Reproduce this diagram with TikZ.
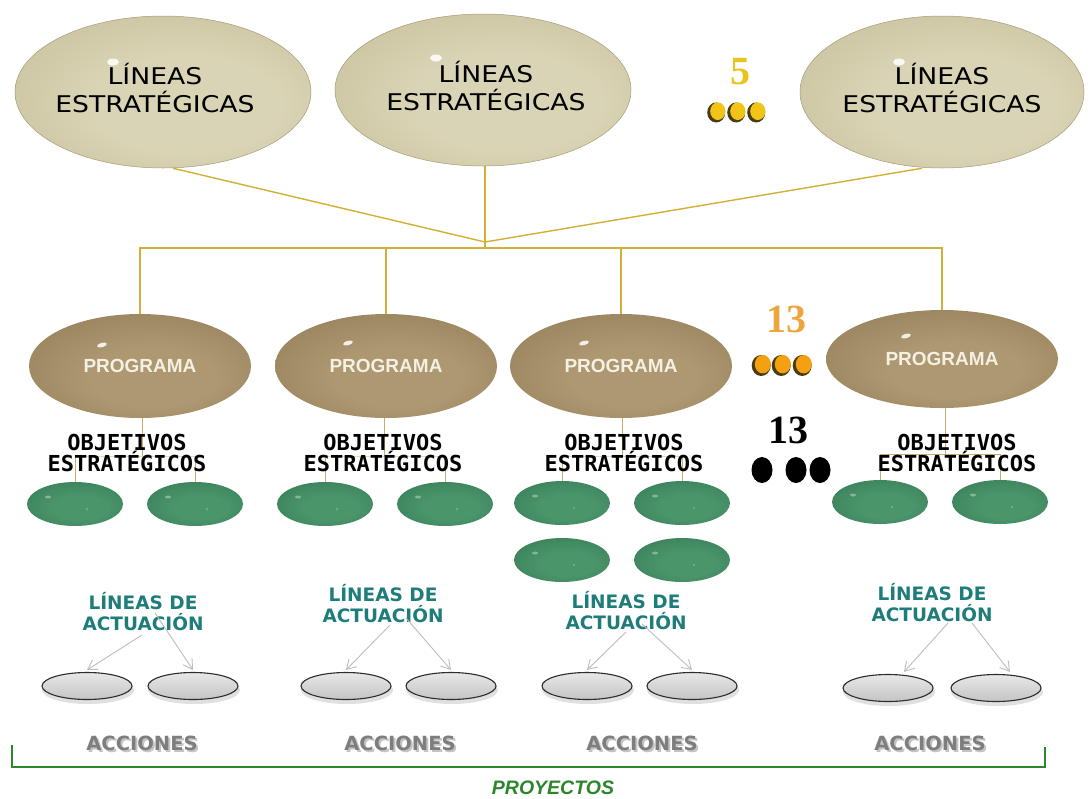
\documentclass[tikz,border=0pt]{standalone}
\usepackage{fontspec}
\setmainfont{DejaVu Sans}
\newfontfamily\wideface[FakeStretch=1.16]{DejaVu Sans}
\newfontfamily\monoface{DejaVu Sans Mono}
\newfontfamily\serifface{Liberation Serif}
\newfontfamily\arialface{Liberation Sans}
\usetikzlibrary{shapes.geometric,arrows.meta}

% palette
\definecolor{topin}{HTML}{D9D4B5}
\definecolor{topout}{HTML}{BAB28A}
\definecolor{topedge}{HTML}{A59D78}
\definecolor{progin}{HTML}{AE9871}
\definecolor{progout}{HTML}{86704D}
\definecolor{progtext}{HTML}{F4F0E4}
\definecolor{greenin}{HTML}{4B956B}
\definecolor{greenout}{HTML}{2B6E4C}
\definecolor{acttop}{HTML}{E8E8E8}
\definecolor{actbot}{HTML}{C4C4C4}
\definecolor{actedge}{HTML}{2C2C2C}
\definecolor{gold}{HTML}{D2B035}
\definecolor{tanc}{HTML}{C9AE6E}
\definecolor{tealc}{HTML}{1E7D7A}
\definecolor{accgray}{HTML}{7E7E7E}
\definecolor{accshadow}{HTML}{C4C4C4}
\definecolor{arrgray}{HTML}{BDBDBD}
\definecolor{bracketgreen}{HTML}{2C862C}
\definecolor{numgold}{HTML}{E9C41C}
\definecolor{numorange}{HTML}{EDA63C}
\definecolor{coingold}{HTML}{F2C418}
\definecolor{coinorange}{HTML}{F5A012}
\definecolor{coinrim}{HTML}{4A3C12}

% soft radial shadings, brightest a little below and right of centre
\pgfdeclareradialshading{topshade}{\pgfpoint{6bp}{-6bp}}{color(0bp)=(topin); color(16bp)=(topin); color(50bp)=(topout)}
\pgfdeclareradialshading{progshade}{\pgfpoint{4bp}{-8bp}}{color(0bp)=(progin); color(14bp)=(progin); color(50bp)=(progout)}
\pgfdeclareradialshading{greenshade}{\pgfpoint{4bp}{-6bp}}{color(0bp)=(greenin); color(14bp)=(greenin); color(50bp)=(greenout)}

\begin{document}
\begin{tikzpicture}[x=1pt,y=-1pt,
  topell/.style={ellipse, minimum width=296pt, minimum height=152pt, inner sep=0pt,
    shade, shading=topshade, draw=topedge, line width=0.5pt},
  toplabel/.style={align=center, inner sep=0pt, font=\wideface\fontsize{23}{28}\selectfont},
  progell/.style={ellipse, minimum width=222pt, minimum height=104pt, inner sep=0pt,
    shade, shading=progshade, font=\arialface\bfseries\fontsize{19}{20}\selectfont, text=progtext},
  objell/.style={ellipse, minimum width=96pt, minimum height=44pt, inner sep=0pt,
    shade, shading=greenshade},
  actell/.style={ellipse, minimum width=90pt, minimum height=27pt, inner sep=0pt,
    draw=actedge, line width=1.1pt, top color=acttop, bottom color=actbot},
  actshadow/.style={fill=black, opacity=0.12},
  objlabel/.style={font=\monoface\bfseries\fontsize{22}{21}\selectfont, align=center, inner sep=0pt},
  linlabel/.style={font=\bfseries\fontsize{18.5}{21}\selectfont, text=tealc, align=center, inner sep=0pt},
  acclabel/.style={font=\bfseries\fontsize{19.5}{20}\selectfont, text=accgray, inner sep=0pt},
  accshade/.style={font=\bfseries\fontsize{19.5}{20}\selectfont, text=accshadow, inner sep=0pt},
  numlabel/.style={font=\serifface\bfseries\fontsize{40}{40}\selectfont, inner sep=0pt},
  goldline/.style={draw=gold, line width=1.4pt},
  tanline/.style={draw=tanc, line width=1pt},
  tanbar/.style={draw=tanc, line width=1pt, opacity=0.45},
  arr/.style={draw=arrgray, line width=0.9pt, -{Straight Barb[length=9pt,width=11pt]}},
  glint/.style={fill=white, opacity=0.85},
]
\fill[white] (0,0) rectangle (1089,798);
\useasboundingbox (0,0) rectangle (1089,798);

% ---- strategic lines ----
\node[topell] (t1) at (163,92) {};
\node[topell] (t2) at (483,90) {};
\node[topell, minimum width=284pt] (t3) at (942,92) {};
\node[toplabel] (tl1) at (155,88) {LÍNEAS\\ESTRATÉGICAS};
\node[toplabel] (tl2) at (486,86) {LÍNEAS\\ESTRATÉGICAS};
\node[toplabel] (tl3) at (942,88) {LÍNEAS\\ESTRATÉGICAS};
\fill[glint] (113,62) ellipse [x radius=6pt, y radius=3.5pt];
\fill[glint] (436,58) ellipse [x radius=6pt, y radius=3.5pt];
\fill[glint] (899,62) ellipse [x radius=6pt, y radius=3.5pt];

% ---- programmes ----
\node[progell] (p1) at (140,366) {PROGRAMA};
\node[progell] (p2) at (386,366) {PROGRAMA};
\node[progell] (p3) at (621,366) {PROGRAMA};
\node[progell, minimum width=232pt, minimum height=98pt] (p4) at (942,359) {PROGRAMA};
\fill[glint, rotate around={15:(102,345)}] (102,345) ellipse [x radius=5pt, y radius=2.2pt];
\fill[glint, rotate around={15:(348,343)}] (348,343) ellipse [x radius=5pt, y radius=2.2pt];
\fill[glint, rotate around={15:(584,343)}] (584,343) ellipse [x radius=5pt, y radius=2.2pt];
\fill[glint, rotate around={15:(906,336)}] (906,336) ellipse [x radius=5pt, y radius=2.2pt];

% ---- strategic objectives ----
\node[objell] (g1a) at (75,504) {};
\node[objell] (g1b) at (195,504) {};
\node[objell] (g2a) at (325,504) {};
\node[objell] (g2b) at (445,504) {};
\node[objell] (g3a) at (562,503) {};
\node[objell] (g3b) at (682,503) {};
\node[objell] (g3c) at (562,560) {};
\node[objell] (g3d) at (682,560) {};
\node[objell] (g4a) at (880,502) {};
\node[objell] (g4b) at (1000,502) {};
\foreach \gx/\gy in {75/504,195/504,325/504,445/504,562/503,682/503,562/560,682/560,880/502,1000/502}{
  \fill[white, opacity=0.35] (\gx-27,\gy-7) ellipse [x radius=3pt, y radius=1.5pt];
  \fill[white, opacity=0.25] (\gx+12,\gy+5) ellipse [x radius=1pt, y radius=1.5pt];
}

% ---- actions ----
\foreach \ax/\ay in {87/686,193/686,346/686,451/686,587/686,692/686,888/688,996/688}{
  \fill[actshadow] (\ax+1,\ay+4) ellipse [x radius=46pt, y radius=14pt];
}
\node[actell] (a1a) at (87,686) {};
\node[actell] (a1b) at (193,686) {};
\node[actell] (a2a) at (346,686) {};
\node[actell] (a2b) at (451,686) {};
\node[actell] (a3a) at (587,686) {};
\node[actell] (a3b) at (692,686) {};
\node[actell] (a4a) at (888,688) {};
\node[actell] (a4b) at (996,688) {};

% ---- gold tree from strategic lines to programmes ----
\coordinate (hub) at (485,242);
\coordinate (bar) at (0,248);
\draw[goldline] ([xshift=10pt]t1.south) -- (hub);
\draw[goldline] ([xshift=-20pt]t3.south) -- (hub);
\draw[goldline] ([xshift=2pt]t2.south) -- (hub |- bar);
\draw[goldline] (p1.north) -- (p1.north |- bar) -- (p4.north |- bar) -- (p4.north);
\draw[goldline] (p2.north) -- (p2.north |- bar);
\draw[goldline] (p3.north) -- (p3.north |- bar);

% ---- programme to objectives ----
\coordinate (j1) at (142,456);
\coordinate (j2) at (384,456);
\coordinate (j3) at (622,456);
\coordinate (j4) at (945,454);
\draw[tanline] (p1.south -| j1) -- (j1);
\draw[tanbar] (g1a.north |- j1) -- (g1b.north |- j1);
\draw[tanline] (g1a.north |- j1) -- (g1a.north);
\draw[tanline] (g1b.north |- j1) -- (g1b.north);
\draw[tanline] (p2.south -| j2) -- (j2);
\draw[tanbar] (g2a.north |- j2) -- (g2b.north |- j2);
\draw[tanline] (g2a.north |- j2) -- (g2a.north);
\draw[tanline] (g2b.north |- j2) -- (g2b.north);
\draw[tanline] (p3.south -| j3) -- (j3);
\draw[tanbar] (g3a.north |- j3) -- (g3b.north |- j3);
\draw[tanline] (g3a.north |- j3) -- (g3a.north);
\draw[tanline] (g3b.north |- j3) -- (g3b.north);
\draw[tanline] (p4.south -| j4) -- (j4);
\draw[tanline] (g4a.north |- j4) -- (g4b.north |- j4);
\draw[tanline] (g4a.north |- j4) -- (g4a.north);
\draw[tanline] (g4b.north |- j4) -- (g4b.north);

% ---- labels ----
\node[objlabel] (o1) at (127,453) {OBJETIVOS\\ESTRATÉGICOS};
\node[objlabel] (o2) at (383,453) {OBJETIVOS\\ESTRATÉGICOS};
\node[objlabel] (o3) at (624,453) {OBJETIVOS\\ESTRATÉGICOS};
\node[objlabel] (o4) at (957,453) {OBJETIVOS\\ESTRATÉGICOS};

\node[linlabel] (l1) at (143,612) {LÍNEAS DE\\ACTUACIÓN};
\node[linlabel] (l2) at (383,604) {LÍNEAS DE\\ACTUACIÓN};
\node[linlabel] (l3) at (626,611) {LÍNEAS DE\\ACTUACIÓN};
\node[linlabel] (l4) at (932,603) {LÍNEAS DE\\ACTUACIÓN};

\node[accshade] (cs1) at (144,745) {ACCIONES};
\node[accshade] (cs2) at (402,745) {ACCIONES};
\node[accshade] (cs3) at (644,745) {ACCIONES};
\node[accshade] (cs4) at (932,745) {ACCIONES};
\node[acclabel] (c1) at (142,743) {ACCIONES};
\node[acclabel] (c2) at (400,743) {ACCIONES};
\node[acclabel] (c3) at (642,743) {ACCIONES};
\node[acclabel] (c4) at (930,743) {ACCIONES};

% ---- arrows from lines of action to actions ----
\coordinate (s1a) at (142,635);
\coordinate (s1b) at (155,613);
\coordinate (s2a) at (390,625);
\coordinate (s2b) at (406,618);
\coordinate (s3a) at (626,632);
\coordinate (s3b) at (642,624);
\coordinate (s4a) at (948,623);
\coordinate (s4b) at (972,623);
\draw[arr] (s1a) -- ([yshift=2pt]a1a.north);
\draw[arr] (s1b) -- ([yshift=2pt]a1b.north);
\draw[arr] (s2a) -- ([yshift=2pt]a2a.north);
\draw[arr] (s2b) -- ([yshift=2pt]a2b.north);
\draw[arr] (s3a) -- ([yshift=2pt]a3a.north);
\draw[arr] (s3b) -- ([yshift=2pt]a3b.north);
\draw[arr] (s4a) -- ([xshift=16pt,yshift=2pt]a4a.north);
\draw[arr] (s4b) -- ([xshift=14pt,yshift=2pt]a4b.north);

% ---- counts ----
\node[numlabel, text=numgold] (n5) at (740,72) {5};
\foreach \cx in {717,737,757}{
  \fill[coinrim] (\cx-0.8,112.5) ellipse [x radius=9pt, y radius=10pt];
  \fill[coingold] (\cx+0.8,111.2) ellipse [x radius=7.6pt, y radius=8.8pt];
}
\node[numlabel, text=numorange] (n13a) at (786,319) {13};
\foreach \cx in {762,782,803}{
  \fill[coinrim] (\cx-0.8,365.5) ellipse [x radius=9.5pt, y radius=10.5pt];
  \fill[coinorange] (\cx+0.8,364.2) ellipse [x radius=8pt, y radius=9.2pt];
}
\node[numlabel, text=black] (n13b) at (788,430) {13};
\fill[black] (762,470) ellipse [x radius=10.5pt, y radius=13pt];
\fill[black] (796,470) ellipse [x radius=10.5pt, y radius=13pt];
\fill[black] (820,470) ellipse [x radius=10.5pt, y radius=13pt];

% ---- projects bracket ----
\coordinate (bl) at (12,745);
\coordinate (br) at (1045,747);
\draw[draw=bracketgreen, line width=2.4pt] (bl) -- (bl |- 0,767) -- (br |- 0,767) -- (br);
\node[font=\arialface\bfseries\itshape\fontsize{19.5}{20}\selectfont, text=bracketgreen, inner sep=0pt] (proy) at (553,788) {PROYECTOS};
\end{tikzpicture}
\end{document}
